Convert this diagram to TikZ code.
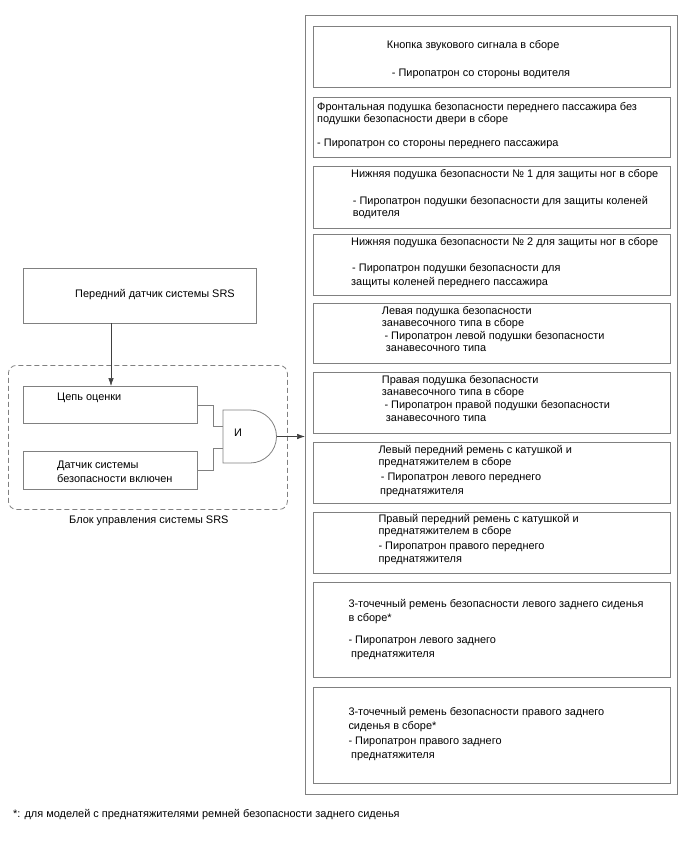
\documentclass[tikz,border=0pt]{standalone}
\usepackage{fontspec}
\setmainfont{Liberation Sans}
\usetikzlibrary{arrows.meta}
\definecolor{linegray}{RGB}{128,128,128}
\begin{document}
\begin{tikzpicture}[x=1pt,y=-1pt,
  box/.style={draw=linegray,line width=0.8pt,inner sep=0pt,anchor=north west,minimum width=#1},
  box/.default=357pt,
  txt/.style={anchor=base west,inner sep=0pt,font=\fontsize{10.95}{12}\selectfont,text=black},
  conn/.style={draw=black!75,line width=0.6pt},
  arr/.style={conn,-{Latex[length=8pt,width=5.5pt]}}]
\useasboundingbox (0,0) rectangle (688,852);
% outer box
\node[box=372pt,minimum height=779pt] (outer) at (305,15) {};
% inner boxes
\node[box,minimum height=61pt] (b1) at (313,26) {};
\node[box,minimum height=60pt] (b2) at (313,97) {};
\node[box,minimum height=62pt] (b3) at (313,166) {};
\node[box,minimum height=61pt] (b4) at (313,234) {};
\node[box,minimum height=60pt] (b5) at (313,303) {};
\node[box,minimum height=61pt] (b6) at (313,372) {};
\node[box,minimum height=61pt] (b7) at (313,442) {};
\node[box,minimum height=61pt] (b8) at (313,512) {};
\node[box,minimum height=95pt] (b9) at (313,582) {};
\node[box,minimum height=96pt] (b10) at (313,687) {};
% texts
\node[txt] (t1a) at (386.7,48) {Кнопка звукового сигнала в сборе};
\node[txt] (t1b) at (391.7,76.5) {- Пиропатрон со стороны водителя};
\node[txt] (t2a) at (317,110.5) {Фронтальная подушка безопасности переднего пассажира без};
\node[txt] (t2b) at (317,122.5) {подушки безопасности двери в сборе};
\node[txt] (t2c) at (317,146.5) {- Пиропатрон со стороны переднего пассажира};
\node[txt] (t3a) at (351,177.2) {Нижняя подушка безопасности № 1 для защиты ног в сборе};
\node[txt] (t3b) at (352.7,204.5) {- Пиропатрон подушки безопасности для защиты коленей};
\node[txt] (t3c) at (352.7,216) {водителя};
\node[txt] (t4a) at (351,245.5) {Нижняя подушка безопасности № 2 для защиты ног в сборе};
\node[txt] (t4b) at (352,271.5) {- Пиропатрон подушки безопасности для};
\node[txt] (t4c) at (351,285.5) {защиты коленей переднего пассажира};
\node[txt] (t5a) at (381.7,314) {Левая подушка безопасности};
\node[txt] (t5b) at (381.7,326.5) {занавесочного типа в сборе};
\node[txt] (t5c) at (384.3,339) {- Пиропатрон левой подушки безопасности};
\node[txt] (t5d) at (385.7,351.7) {занавесочного типа};
\node[txt] (t6a) at (381.7,383) {Правая подушка безопасности};
\node[txt] (t6b) at (381.7,395.7) {занавесочного типа в сборе};
\node[txt] (t6c) at (384.3,408.4) {- Пиропатрон правой подушки безопасности};
\node[txt] (t6d) at (385.7,421.7) {занавесочного типа};
\node[txt] (t7a) at (378.3,453.2) {Левый передний ремень с катушкой и};
\node[txt] (t7b) at (378.3,465.7) {преднатяжителем в сборе};
\node[txt] (t7c) at (380.7,480.5) {- Пиропатрон левого переднего};
\node[txt] (t7d) at (380,494) {преднатяжителя};
\node[txt] (t8a) at (378.3,522.2) {Правый передний ремень с катушкой и};
\node[txt] (t8b) at (378.3,534.7) {преднатяжителем в сборе};
\node[txt] (t8c) at (378.3,549.5) {- Пиропатрон правого переднего};
\node[txt] (t8d) at (378.3,562.3) {преднатяжителя};
\node[txt] (t9a) at (348.3,607.2) {3-точечный ремень безопасности левого заднего сиденья};
\node[txt] (t9b) at (348.3,621.3) {в сборе*};
\node[txt] (t9c) at (348.3,643.8) {- Пиропатрон левого заднего};
\node[txt] (t9d) at (351,657.3) {преднатяжителя};
\node[txt] (t10a) at (348.3,715.5) {3-точечный ремень безопасности правого заднего};
\node[txt] (t10b) at (348.3,729) {сиденья в сборе*};
\node[txt] (t10c) at (348.3,744.5) {- Пиропатрон правого заднего};
\node[txt] (t10d) at (351,758) {преднатяжителя};
% left side
\node[box=233pt,minimum height=55pt] (sens) at (23,268) {};
\node[txt] (tsens) at (75,297.8) {Передний датчик системы SRS};
\node[draw=linegray,line width=0.8pt,dashed,dash pattern=on 5pt off 3pt,rounded corners=8pt,inner sep=0pt,anchor=north west,minimum width=279pt,minimum height=144pt] (ecu) at (8,365) {};
\node[box=174pt,minimum height=37pt] (ev) at (23,386) {};
\node[txt] (tev) at (57,400.5) {Цепь оценки};
\node[box=174pt,minimum height=38pt] (ds) at (23,451) {};
\node[txt] (tds1) at (57,468.8) {Датчик системы};
\node[txt] (tds2) at (57,482.2) {безопасности включен};
\node[txt] (tecu) at (69,523.8) {Блок управления системы SRS};
\node[txt] (tnote) at (13,817.5) {*: для моделей с преднатяжителями ремней безопасности заднего сиденья};
% AND gate
\draw[draw=linegray,line width=0.8pt] (223,410) -- (250,410) arc[start angle=-90,end angle=90,radius=26.5] -- (223,463) -- cycle;
\coordinate (gin1) at (223,426.5);
\coordinate (gin2) at (223,448);
\coordinate (gout) at (276.5,436.5);
\node[txt] (tand) at (234,436) {И};
% connectors
\coordinate (s1) at (111,323);
\draw[arr] (s1) -- (s1 |- ev.north);
\draw[conn,draw=linegray] (ev.east) -- ++(15,0) |- (gin1);
\draw[conn,draw=linegray] (ds.east) -- ++(15,0) |- (gin2);
\draw[arr] (gout) -- (gout -| outer.west);
\end{tikzpicture}
\end{document}
